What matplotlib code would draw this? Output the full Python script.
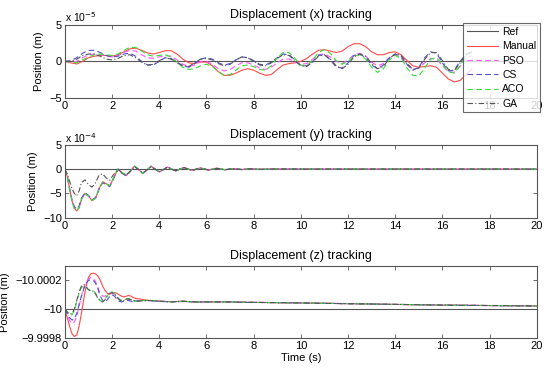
import numpy as np
import matplotlib
matplotlib.use("Agg")
import matplotlib.pyplot as plt

plt.rcParams["font.family"] = ["Liberation Sans", "DejaVu Sans"]

labels = ["Ref", "Manual", "PSO", "CS", "ACO", "GA"]

# ---- displacement x (units 1e-5 m), sampled every 0.25 s up to 17.25 s
t_x = np.arange(0, 17.26, 0.25)
x_manual = [0, -0.2, -0.35, 0.0, 0.5, 0.7, 0.8, 0.8,
            0.7, 0.9, 1.3, 1.7, 1.8, 1.5, 1.15, 1.0,
            1.2, 1.45, 1.45, 1.0, 0.3, -0.2, -0.3, -0.1,
            -0.1, -0.6, -1.4, -1.9, -1.9, -1.6, -1.2, -1.0,
            -1.2, -1.6, -1.9, -1.8, -1.1, -0.5, -0.3, -0.2,
            0.0, 0.4, 1.0, 1.5, 1.6, 1.4, 1.2, 1.4,
            2.0, 2.4, 2.4, 2.0, 1.3, 0.9, 0.9, 1.2,
            1.3, 0.9, 0.1, -0.6, -0.8, -0.7, -0.6, -0.8,
            -1.6, -2.4, -2.8, -2.6, -1.8, -1.0]
x_pso = [0, -0.1, 0.0, 0.5, 0.9, 1.0, 0.9, 0.7,
         0.6, 0.8, 1.2, 1.5, 1.4, 0.9, 0.5, 0.4,
         0.6, 0.8, 0.7, 0.2, -0.4, -0.7, -0.5, 0.0,
         0.0, -0.4, -1.0, -1.3, -1.1, -0.6, -0.2, -0.2,
         -0.5, -0.9, -1.1, -0.8, -0.2, 0.3, 0.3, -0.1,
         -0.4, -0.3, 0.3, 0.9, 1.0, 0.6, 0.0, -0.3,
         0.2, 0.9, 1.1, 0.7, -0.1, -0.6, -0.3, 0.5,
         0.9, 0.5, -0.5, -1.1, -0.9, -0.2, 0.4, 0.3,
         -0.6, -1.4, -1.5, -0.7, 0.4, 0.8]
x_cs = [0, 0.1, 0.5, 1.1, 1.5, 1.5, 1.2, 0.8,
        0.6, 0.7, 1.0, 1.1, 0.7, 0.0, -0.5, -0.5,
        0.0, 0.5, 0.4, -0.1, -0.6, -0.8, -0.3, 0.3,
        0.5, 0.3, -0.2, -0.5, -0.3, 0.2, 0.6, 0.5,
        0.1, -0.4, -0.5, -0.1, 0.5, 1.0, 0.9, 0.2,
        -0.6, -0.6, 0.0, 0.8, 0.9, 0.2, -0.8, -0.9,
        -0.2, 0.8, 1.0, 0.5, -0.5, -1.0, -0.5, 0.5,
        1.0, 0.7, -0.4, -1.2, -0.8, 0.5, 1.3, 1.1,
        -0.2, -1.3, -1.2, 0.0, 1.0, 1.3]
x_aco = [0, -0.1, -0.2, 0.2, 0.6, 0.9, 1.0, 0.9,
         0.8, 1.0, 1.5, 1.9, 1.9, 1.4, 0.9, 0.7,
         0.8, 0.9, 0.6, -0.1, -0.8, -1.1, -1.0, -0.6,
         -0.4, -0.7, -1.4, -1.9, -1.8, -1.2, -0.6, -0.5,
         -0.7, -1.1, -1.2, -0.6, 0.5, 1.2, 1.2, 0.4,
         -0.5, -0.6, 0.2, 1.2, 1.6, 1.1, 0.1, -0.4,
         0.0, 0.7, 0.9, 0.3, -0.8, -1.5, -1.0, 0.2,
         0.8, 0.4, -0.9, -1.9, -2.0, -0.9, 0.3, 0.5,
         -0.4, -1.4, -1.6, -0.6, 0.8, 1.2]
x_ga = [0, 0.0, 0.3, 0.8, 1.0, 1.0, 0.7, 0.3,
        0.2, 0.4, 0.8, 0.9, 0.5, -0.1, -0.5, -0.4,
        0.1, 0.5, 0.3, -0.2, -0.6, -0.7, -0.2, 0.3,
        0.4, 0.2, -0.3, -0.6, -0.4, 0.2, 0.6, 0.5,
        0.0, -0.5, -0.6, -0.2, 0.4, 0.9, 0.8, 0.1,
        -0.6, -0.7, -0.1, 0.7, 0.9, 0.3, -0.6, -1.0,
        -0.4, 0.6, 1.0, 0.7, -0.3, -1.0, -0.7, 0.4,
        1.0, 0.8, -0.3, -1.1, -0.9, 0.3, 1.2, 1.2,
        0.1, -1.1, -1.3, -0.2, 0.9, 1.3]

# ---- displacement y (units 1e-4 m)
t_y = [0, 0.1, 0.2, 0.3, 0.4, 0.5, 0.6, 0.7,
       0.85, 1.0, 1.15, 1.3, 1.45, 1.6, 1.75, 1.9, 2.05, 2.25,
       2.425, 2.6, 2.775, 2.95, 3.125, 3.3, 3.475, 3.65,
       3.825, 4.0, 4.175, 4.35, 4.525, 4.7, 4.875, 5.05,
       5.225, 5.4, 5.575, 5.75, 5.925, 6.1, 6.275, 6.45,
       6.625, 6.8, 6.975, 7.15, 7.325, 7.5, 7.675, 7.85,
       8.2, 9, 10, 12, 14, 16, 18, 20]
y_manual = [0, -1.5, -4.0, -6.5, -8.0, -8.6, -8.0, -6.3,
            -5.0, -5.5, -6.5, -6.0, -4.0, -2.6, -3.0, -3.5, -2.0, 0.0,
            -0.8, -1.3, -0.4, 0.6, -0.1, -0.9, -0.2, 0.6,
            0.0, -0.6, -0.1, 0.4, 0.0, -0.4, 0.0, 0.3,
            0.0, -0.3, 0.0, 0.25, 0.0, -0.2, 0.0, 0.2,
            0.0, -0.15, 0.0, 0.12, 0.0, -0.1, 0.0, 0.08,
            -0.05, 0.02, 0, 0, 0, 0, 0, 0]
y_pso = [0, -1.4, -3.9, -6.3, -7.8, -8.3, -7.7, -6.1,
         -5.0, -5.6, -6.4, -5.8, -3.9, -2.7, -3.1, -3.4, -1.9, 0.0,
         -0.8, -1.2, -0.4, 0.55, -0.1, -0.85, -0.2, 0.55,
         0.0, -0.55, -0.1, 0.4, 0.0, -0.35, 0.0, 0.3,
         0.0, -0.25, 0.0, 0.2, 0.0, -0.2, 0.0, 0.15,
         0.0, -0.12, 0.0, 0.1, 0.0, -0.08, 0.0, 0.06,
         -0.04, 0.02, 0, 0, 0, 0, 0, 0]
y_cs = [0, -1.6, -4.1, -6.4, -7.7, -8.2, -7.6, -6.0,
        -4.8, -5.4, -6.3, -5.9, -4.1, -2.8, -3.2, -3.6, -2.1, 0.0,
        -0.9, -1.4, -0.5, 0.6, -0.1, -0.9, -0.3, 0.6,
        0.0, -0.6, -0.1, 0.45, 0.0, -0.4, 0.0, 0.3,
        0.0, -0.3, 0.0, 0.25, 0.0, -0.2, 0.0, 0.18,
        0.0, -0.15, 0.0, 0.12, 0.0, -0.1, 0.0, 0.08,
        -0.05, 0.02, 0, 0, 0, 0, 0, 0]
y_aco = [0, -1.5, -4.1, -6.6, -8.1, -8.5, -7.9, -6.2,
         -5.1, -5.5, -6.4, -6.0, -4.1, -2.7, -3.0, -3.4, -1.9, 0.0,
         -0.7, -1.3, -0.4, 0.6, 0.0, -0.9, -0.2, 0.6,
         0.05, -0.6, -0.1, 0.4, 0.0, -0.4, 0.0, 0.3,
         0.0, -0.3, 0.0, 0.25, 0.0, -0.2, 0.0, 0.2,
         0.0, -0.15, 0.0, 0.12, 0.0, -0.1, 0.0, 0.08,
         -0.05, 0.02, 0, 0, 0, 0, 0, 0]
y_ga = [0, -1.0, -2.5, -4.0, -5.0, -5.5, -4.5, -2.8,
        -2.2, -3.2, -3.7, -2.8, -1.2, -1.0, -1.8, -2.3, -1.2, 0.0,
        -0.8, -1.2, -0.4, 0.5, -0.1, -0.8, -0.2, 0.5,
        0.0, -0.5, -0.1, 0.4, 0.0, -0.35, 0.0, 0.3,
        0.0, -0.25, 0.0, 0.2, 0.0, -0.2, 0.0, 0.15,
        0.0, -0.12, 0.0, 0.1, 0.0, -0.08, 0.0, 0.06,
        -0.04, 0.02, 0, 0, 0, 0, 0, 0]

# ---- displacement z, deviation from -10 m (units 1e-4 m)
t_z = [0, 0.1, 0.2, 0.3, 0.4, 0.5, 0.6, 0.7, 0.8, 0.9,
       1.0, 1.1, 1.2, 1.3, 1.4, 1.5, 1.6, 1.7, 1.8, 1.9,
       2.0, 2.1, 2.2, 2.3, 2.4, 2.5, 2.6, 2.7, 2.8, 2.9, 3.0,
       3.5, 4.0, 4.5, 5.0, 5.5, 6.0, 6.5, 7.0, 7.5, 8.0,
       10, 12, 14, 16, 18, 20]
z_manual = [0, 0.6, 1.2, 1.7, 1.9, 1.8, 1.2, 0.3, -0.7, -1.6,
            -2.2, -2.45, -2.5, -2.45, -2.3, -2.0, -1.6, -1.3, -1.1, -1.05,
            -1.1, -1.15, -1.1, -1.0, -0.9, -0.85, -0.9, -0.95, -0.9, -0.8, -0.75,
            -0.62, -0.55, -0.52, -0.55, -0.5, -0.5, -0.5, -0.5, -0.48, -0.47,
            -0.43, -0.38, -0.33, -0.28, -0.25, -0.22]
z_pso = [0, 0.4, 0.8, 1.0, 0.9, 0.5, -0.2, -0.9, -1.5, -1.9,
         -2.1, -2.2, -2.15, -1.9, -1.5, -1.1, -0.9, -0.9, -1.0, -1.1,
         -1.1, -1.0, -0.85, -0.7, -0.65, -0.65, -0.7, -0.7, -0.65, -0.6, -0.6,
         -0.6, -0.55, -0.52, -0.52, -0.5, -0.5, -0.5, -0.49, -0.48, -0.47,
         -0.43, -0.38, -0.33, -0.29, -0.25, -0.22]
z_cs = [0, 0.3, 0.6, 0.75, 0.7, 0.3, -0.3, -0.9, -1.4, -1.8,
        -2.0, -2.05, -2.0, -1.8, -1.4, -0.9, -0.6, -0.5, -0.65, -0.9,
        -1.0, -0.9, -0.7, -0.55, -0.5, -0.55, -0.6, -0.6, -0.55, -0.5, -0.55,
        -0.6, -0.55, -0.5, -0.55, -0.5, -0.5, -0.5, -0.5, -0.48, -0.47,
        -0.43, -0.38, -0.33, -0.28, -0.25, -0.21]
z_aco = [0, 0.2, 0.4, 0.4, 0.1, -0.5, -1.1, -1.5, -1.6, -1.5,
         -1.35, -1.3, -1.3, -1.1, -0.8, -0.6, -0.55, -0.7, -0.95, -1.15,
         -1.2, -1.1, -0.9, -0.7, -0.6, -0.6, -0.7, -0.75, -0.7, -0.6, -0.55,
         -0.62, -0.55, -0.5, -0.55, -0.5, -0.5, -0.5, -0.5, -0.48, -0.47,
         -0.43, -0.38, -0.33, -0.28, -0.25, -0.22]
z_ga = [0, 0.2, 0.35, 0.3, 0.0, -0.6, -1.2, -1.6, -1.7, -1.55,
        -1.35, -1.25, -1.25, -1.05, -0.75, -0.55, -0.5, -0.65, -0.9, -1.1,
        -1.15, -1.05, -0.85, -0.65, -0.55, -0.6, -0.7, -0.7, -0.65, -0.58, -0.55,
        -0.6, -0.55, -0.5, -0.55, -0.5, -0.5, -0.5, -0.5, -0.48, -0.47,
        -0.43, -0.38, -0.33, -0.28, -0.25, -0.22]

styles = {
    "Ref": dict(color="#555555", ls="-", lw=0.8),
    "Manual": dict(color="#ff4a4a", ls="-", lw=0.8),
    "PSO": dict(color="#ff55ff", ls=(0, (5, 3)), lw=0.8),
    "CS": dict(color="#5050d0", ls=(0, (5, 3)), lw=0.8),
    "ACO": dict(color="#33e033", ls=(0, (5, 3)), lw=0.8),
    "GA": dict(color="#555555", ls=(0, (5, 2, 1, 2)), lw=0.8),
}

fig = plt.figure(figsize=(5.5, 3.73), dpi=100)
boxes = [[0.118, 0.737, 0.858, 0.197],
         [0.118, 0.416, 0.858, 0.196],
         [0.118, 0.094, 0.858, 0.193]]
axes = [fig.add_axes(b) for b in boxes]


def style_axes(ax):
    for s in ax.spines.values():
        s.set_color("#555555")
        s.set_linewidth(0.8)
    ax.tick_params(direction="in", top=True, right=True, length=3,
                   width=0.6, color="#555555", labelsize=8, pad=2)
    ax.set_xlim(0, 20)
    ax.set_xticks(range(0, 21, 2))


# x panel
ax = axes[0]
ax.plot([0, 20], [0, 0], label="Ref", **styles["Ref"])
for name, vals in zip(labels[1:], [x_manual, x_pso, x_cs, x_aco, x_ga]):
    ax.plot(t_x, vals, label=name, **styles[name])
ax.set_ylim(-5, 5)
ax.set_yticks([-5, 0, 5])
ax.set_yticklabels(["\u22125", "0", "5"])
ax.set_title("Displacement (x) tracking", fontsize=9, pad=5)
ax.text(0.0, 1.03, r"x 10$^{-5}$", transform=ax.transAxes, fontsize=7.5)
ax.set_ylabel("Position (m)", fontsize=8)
style_axes(ax)
leg = fig.legend(loc="upper right", bbox_to_anchor=(0.982, 0.938),
                 fontsize=7.5, frameon=True, fancybox=False,
                 handlelength=3.0, handletextpad=0.4, labelspacing=0.42,
                 borderpad=0.35, borderaxespad=0)
leg.get_frame().set_edgecolor("#444444")
leg.get_frame().set_linewidth(0.8)
leg.set_zorder(10)

# y panel
ax = axes[1]
ax.plot([0, 20], [0, 0], **styles["Ref"])
for name, vals in zip(labels[1:], [y_manual, y_pso, y_cs, y_aco, y_ga]):
    ax.plot(t_y, vals, **styles[name])
ax.set_ylim(-10, 5)
ax.set_yticks([-10, -5, 0, 5])
ax.set_yticklabels(["\u221210", "\u22125", "0", "5"])
ax.set_title("Displacement (y) tracking", fontsize=9, pad=5)
ax.text(0.0, 1.03, r"x 10$^{-4}$", transform=ax.transAxes, fontsize=7.5)
ax.set_ylabel("Position (m)", fontsize=8)
style_axes(ax)

# z panel
ax = axes[2]
ax.plot([0, 20], [-10, -10], **styles["Ref"])
for name, vals in zip(labels[1:], [z_manual, z_pso, z_cs, z_aco, z_ga]):
    ax.plot(t_z, -10 + 1e-4 * np.array(vals), **styles[name])
ax.set_ylim(-9.9998, -10.0003)
ax.set_yticks([-10.0002, -10.0, -9.9998])
ax.set_yticklabels(["\u221210.0002", "\u221210", "\u22129.9998"])
ax.set_title("Displacement (z) tracking", fontsize=9, pad=5)
ax.set_ylabel("Position (m)", fontsize=8)
ax.set_xlabel("Time (s)", fontsize=8, labelpad=2)
style_axes(ax)

fig.savefig("out.png", dpi=100)
